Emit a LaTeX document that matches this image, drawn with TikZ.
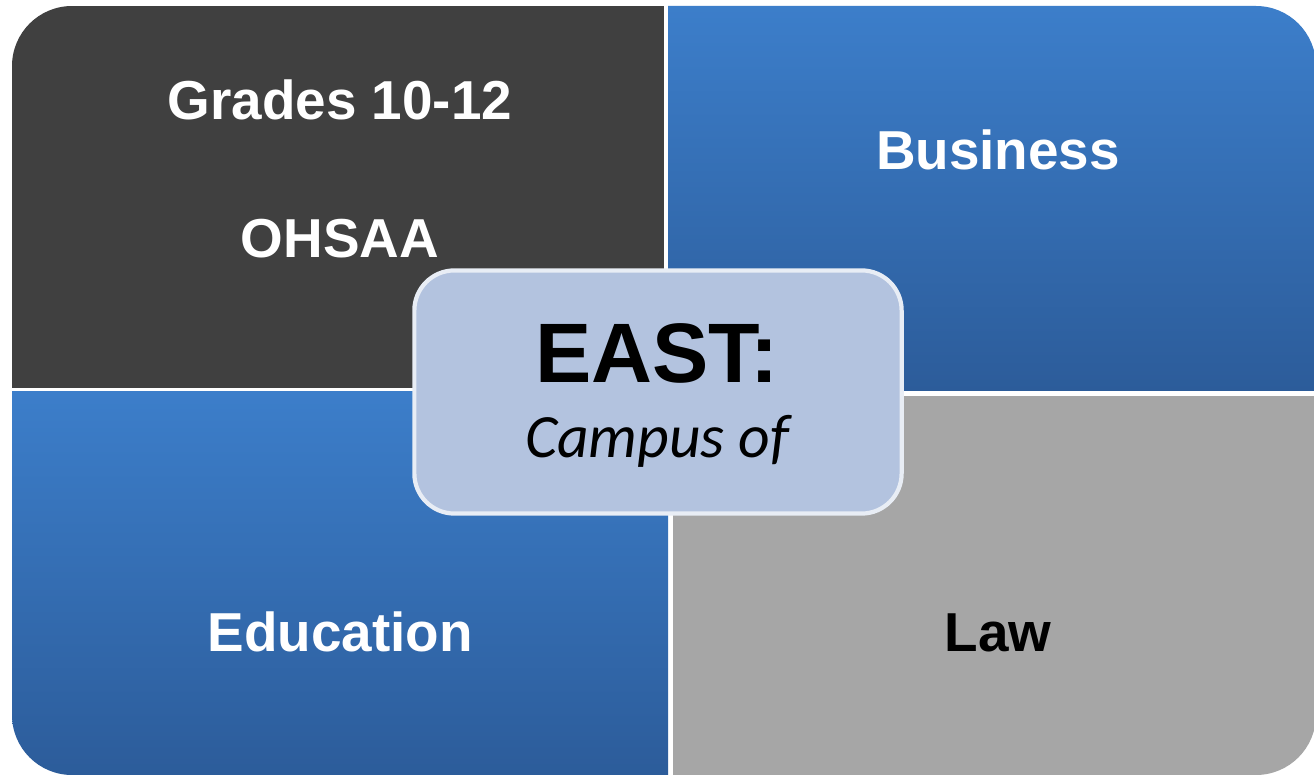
\documentclass[tikz,border=0pt]{standalone}
\usepackage{fontspec}
\setmainfont{Liberation Sans}
\newfontfamily\campusfont{Carlito}
\usepackage{tikz}
\usetikzlibrary{positioning}
\newlength{\quadradius}
\setlength{\quadradius}{0.6cm}

\definecolor{quaddark}{HTML}{404040}
\definecolor{quadgray}{HTML}{A6A6A6}
\definecolor{bluetop}{HTML}{3C7ECA}
\definecolor{bluebottom}{HTML}{2C5C9A}
\definecolor{eastfill}{HTML}{B3C3DF}

\tikzset{
    frameclip/.style={rounded corners=\quadradius},
    quadlabel/.style={anchor=base, text=white, font=\fontsize{15.6}{18}\selectfont\bfseries},
    eastbox/.style={draw=white!70!eastfill, line width=1.2pt, fill=eastfill, rounded corners=0.4cm,
        minimum width=4.87cm, minimum height=2.43cm, inner sep=0pt},
    eastlabel/.style={anchor=base, font=\fontsize{24}{28}\selectfont\bfseries},
    campuslabel/.style={anchor=base, font=\fontsize{17.5}{20}\selectfont\campusfont\itshape}
}

\begin{document}
\begin{tikzpicture}[x=0.01cm, y=-0.01cm]
    \useasboundingbox[fill=white] (0,0) rectangle (1314,779);

    % the four quadrants, cut out of one rounded frame
    \begin{scope}
        \clip[frameclip] (12,6) rectangle (1316,775);
        \fill[quaddark] (12,6) rectangle (664,388);
        \shade[top color=bluetop, bottom color=bluebottom] (668,6) rectangle (1316,391);
        \shade[top color=bluetop, bottom color=bluebottom] (12,392) rectangle (668,775);
        \fill[quadgray] (673,396) rectangle (1316,775);
    \end{scope}

    \node[quadlabel] (grades) at (340,120) {Grades 10-12};
    \node[quadlabel] (ohsaa) at (340,258) {OHSAA};
    \node[quadlabel] (business) at (998,170) {Business};
    \node[quadlabel] (education) at (340,652) {Education};
    \node[quadlabel, text=black] (law) at (998,652) {Law};

    % centre box
    \node[eastbox] (east) at (658,392) {};
    \node[eastlabel] (easttitle) at (657,383) {EAST:};
    \node[campuslabel] (campus) at (657,458) {Campus of};
\end{tikzpicture}
\end{document}
